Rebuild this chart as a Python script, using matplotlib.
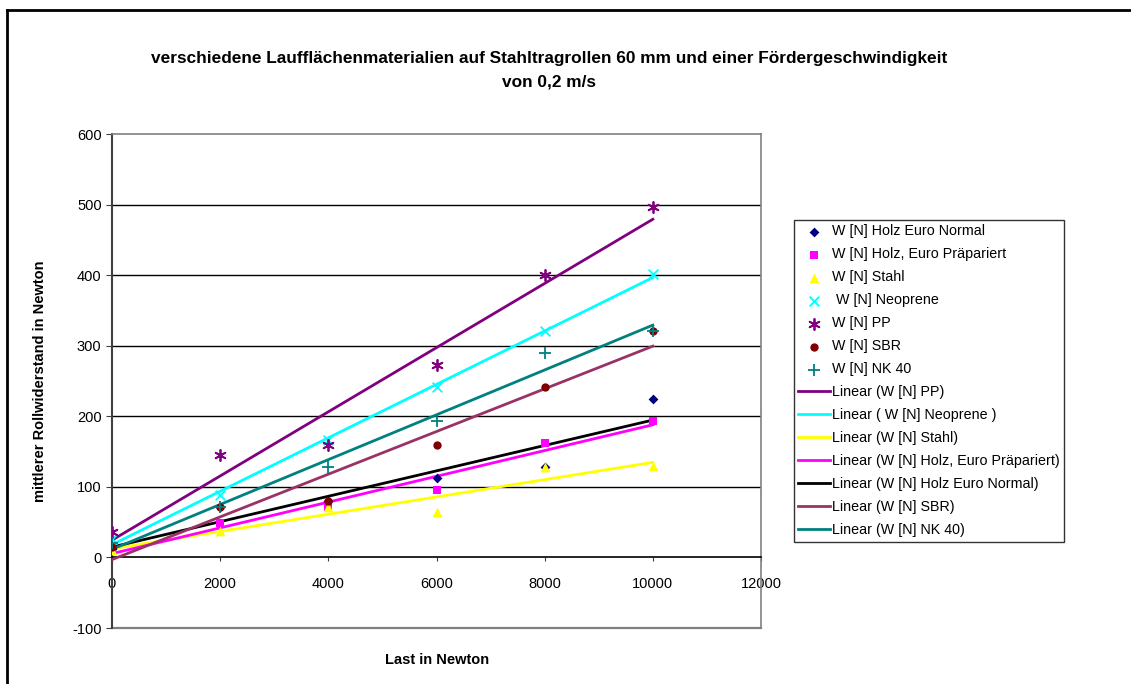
import numpy as np
import matplotlib
matplotlib.use('Agg')
import matplotlib.pyplot as plt
from matplotlib.lines import Line2D

plt.rcParams['font.family'] = ['Liberation Sans', 'DejaVu Sans']
plt.rcParams['axes.unicode_minus'] = False

################################################################
# data
last = [0, 2000, 4000, 6000, 8000, 10000]

holz_normal = [12, 72, 80, 112, 128, 224]
holz_prep = [10, 49, 71, 95, 162, 193]
stahl = [10, 38, 72, 64, 128, 129]
neoprene = [26, 88, 166, 242, 321, 401]
pp = [36, 145, 160, 273, 400, 497]
sbr = [15, 72, 80, 160, 241, 321]
nk40 = [20, 71, 128, 193, 289, 321]

names = ['W [N] Holz Euro Normal', 'W [N] Holz, Euro Präpariert', 'W [N] Stahl',
         ' W [N] Neoprene', 'W [N] PP', 'W [N] SBR', 'W [N] NK 40']
series = [holz_normal, holz_prep, stahl, neoprene, pp, sbr, nk40]
colors = ['#000080', '#FF00FF', '#FFFF00', '#00FFFF', '#800080', '#800000', '#008080']
markers = ['D', 's', '^', 'x', (6, 2, 0), 'o', '+']
msizes = [5, 6, 7, 7, 8, 6, 8]

# trend lines, in legend order
trend_order = [4, 3, 2, 1, 0, 5, 6]
trend_labels = ['Linear (W [N] PP)', 'Linear ( W [N] Neoprene )', 'Linear (W [N] Stahl)',
                'Linear (W [N] Holz, Euro Präpariert)', 'Linear (W [N] Holz Euro Normal)',
                'Linear (W [N] SBR)', 'Linear (W [N] NK 40)']
trend_colors = ['#800080', '#00FFFF', '#FFFF00', '#FF00FF', '#000000', '#993366', '#008080']
################################################################

fig = plt.figure(figsize=(11.31, 6.84), dpi=100)
ax = fig.add_axes([112/1131, 1-628/684, (761-112)/1131, (628-134)/684])

x = np.array(last, dtype=float)
handles = []
for s, c, m, ms, n in zip(series, colors, markers, msizes, names):
    lw = 1.3 if m in ('x', '+', (6, 2, 0)) else 0
    h = ax.scatter(x, s, marker=m, color=c, s=ms**2, linewidths=lw, zorder=4, label=n)
    handles.append(h)

for i, c, lab in zip(trend_order, trend_colors, trend_labels):
    k, d = np.polyfit(x, series[i], 1)
    xs = np.array([0, 10000])
    l, = ax.plot(xs, k*xs + d, color=c, lw=2.0, zorder=3, label=lab)
    handles.append(l)

ax.set_xlim(0, 12000)
ax.set_ylim(-100, 600)
ax.set_xticks(range(0, 12001, 2000))
ax.set_yticks(range(-100, 601, 100))
for yv in range(100, 501, 100):
    ax.axhline(yv, color='black', lw=1, zorder=1)

# x axis crosses at 0, grey plot frame at -100
ax.spines['bottom'].set_position(('data', 0))
ax.spines['bottom'].set_color('black')
ax.spines['bottom'].set_linewidth(1.2)
ax.axhline(-100, color='#808080', lw=1.6, zorder=1, clip_on=False)
for sp in ['top', 'right']:
    ax.spines[sp].set_color('#808080')
    ax.spines[sp].set_linewidth(1.2)
ax.spines['left'].set_color('#404040')
ax.spines['left'].set_linewidth(1.5)

ax.tick_params(axis='y', direction='out', length=4, labelsize=10.5, colors='#404040', labelcolor='black')
ax.tick_params(axis='x', direction='out', length=3, labelsize=10.5, pad=11, colors='#404040', labelcolor='black')

fig.text(0.4855, 1-58/684, 'verschiedene Laufflächenmaterialien auf Stahltragrollen 60 mm und einer Fördergeschwindigkeit',
         ha='center', va='center', fontsize=12.4, fontweight='bold')
fig.text(0.4855, 1-82/684, 'von 0,2 m/s', ha='center', va='center', fontsize=12.4, fontweight='bold')
fig.text(40/1131, 1-381/684, 'mittlerer Rollwiderstand in Newton', rotation=90, ha='center', va='center',
         fontsize=10.5, fontweight='bold')
fig.text(437/1131, 1-660/684, 'Last in Newton', ha='center', va='center', fontsize=10.5, fontweight='bold')

leg = fig.legend(handles=handles, loc='upper left', bbox_to_anchor=(794/1131, 1-220/684),
                 fontsize=10.3, frameon=True, fancybox=False, handlelength=2.2, handletextpad=0.15,
                 labelspacing=0.63, borderpad=0.3, borderaxespad=0)
leg.get_frame().set_edgecolor('black')
leg.get_frame().set_linewidth(1)

# outer chart border (left and top edges only visible)
fig.add_artist(Line2D([7/1131, 7/1131], [0, 1-10/684], color='black', lw=2, transform=fig.transFigure))
fig.add_artist(Line2D([7/1131, 1], [1-10/684, 1-10/684], color='black', lw=2, transform=fig.transFigure))

fig.savefig('out.png', dpi=100)
print('### Done!! ###')
